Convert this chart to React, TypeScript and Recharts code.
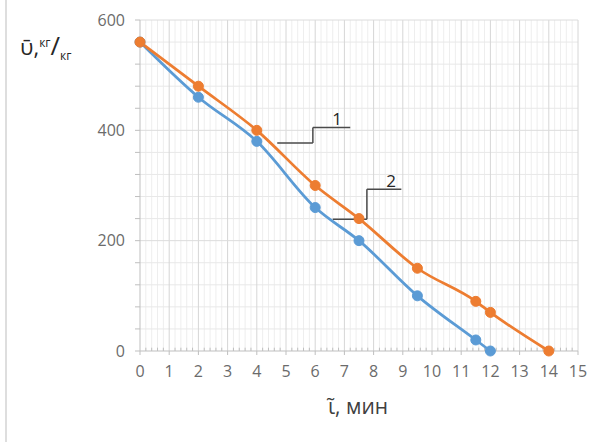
import {
  LineChart,
  Line,
  XAxis,
  YAxis,
  ReferenceLine,
  ReferenceDot,
} from "recharts";

// series 1 (orange) and 2 (blue): time, min -> value, kg/kg
const TIME_1 = [0, 2, 4, 6, 7.5, 9.5, 11.5, 12, 14];
const VALUE_1 = [560, 480, 400, 300, 240, 150, 90, 70, 0];
const TIME_2 = [0, 2, 4, 6, 7.5, 9.5, 11.5, 12];
const VALUE_2 = [560, 460, 380, 260, 200, 100, 20, 0];

const X_TICKS = [0, 1, 2, 3, 4, 5, 6, 7, 8, 9, 10, 11, 12, 13, 14, 15];
const Y_TICKS = [0, 40, 80, 120, 160, 200, 240, 280, 320, 360, 400, 440, 480, 520, 560, 600];
const X_MINOR = Array.from({ length: 76 }, (_, i) => +(i * 0.2).toFixed(1)).filter(
  (v) => !Number.isInteger(v)
);

// leader lines for the "1" / "2" callouts, in data units
const CALLOUT_1 = [
  [4.7, 377], [5.92, 377], [5.92, 405], [7.2, 405],
];
const CALLOUT_2 = [
  [6.6, 239], [7.77, 239], [7.77, 293], [8.95, 293],
];

const ORANGE = "#ED7D31";
const BLUE = "#5B9BD5";
const FONT = "'Open Sans', 'Liberation Sans', sans-serif";

const series1 = TIME_1.map((t, i) => ({ x: t, y: VALUE_1[i] }));
const series2 = TIME_2.map((t, i) => ({ x: t, y: VALUE_2[i] }));

function segments(pts: number[][]) {
  const out = [];
  for (let i = 0; i < pts.length - 1; i++) {
    out.push([
      { x: pts[i][0], y: pts[i][1] },
      { x: pts[i + 1][0], y: pts[i + 1][1] },
    ]);
  }
  return out;
}

export default function App() {
  const tickStyle = { fill: "#6b6b6b", fontSize: 16, fontFamily: FONT };
  return (
    <div
      style={{
        position: "fixed",
        left: 0,
        top: 0,
        width: 600,
        height: 442,
        background: "#fff",
        fontFamily: FONT,
      }}
    >
      <div
        style={{
          position: "absolute",
          left: 5,
          top: 0,
          width: 2,
          height: 442,
          background: "#dedede",
        }}
      />
      <LineChart
        width={600}
        height={442}
        margin={{ top: 20, right: 22, bottom: 0, left: 0 }}
        style={{ fontSize: 16, fontFamily: FONT }}
      >
        <XAxis
          type="number"
          dataKey="x"
          domain={[0, 15]}
          ticks={X_TICKS}
          interval={0}
          height={91}
          tickSize={4}
          tickMargin={11}
          stroke="#bfbfbf"
          fontSize={16}
          tick={tickStyle}
        />
        <YAxis
          type="number"
          domain={[0, 600]}
          ticks={Y_TICKS}
          interval={0}
          width={140}
          tickSize={5}
          tickMargin={10}
          stroke="#bfbfbf"
          fontSize={16}
          tick={tickStyle}
          tickFormatter={(v) => (v % 200 === 0 ? String(v) : "")}
        />
        {/* minor grid */}
        {X_MINOR.map((v) => (
          <ReferenceLine key={"mx" + v} x={v} stroke="#eeeeee" strokeWidth={1} />
        ))}
        {Y_TICKS.filter((v) => v % 200 !== 0).map((v) => (
          <ReferenceLine key={"my" + v} y={v} stroke="#e8e8e8" strokeWidth={1} />
        ))}
        {/* major grid */}
        {X_TICKS.filter((v) => v > 0).map((v) => (
          <ReferenceLine key={"gx" + v} x={v} stroke="#d6d6d6" strokeWidth={1} />
        ))}
        {Y_TICKS.filter((v) => v % 200 === 0 && v > 0).map((v) => (
          <ReferenceLine key={"gy" + v} y={v} stroke="#dcdcdc" strokeWidth={1} />
        ))}
        {/* minor tick marks on the time axis */}
        {X_MINOR.map((v) => (
          <ReferenceLine
            key={"tx" + v}
            segment={[
              { x: v, y: 0 },
              { x: v, y: 6 },
            ]}
            stroke="#bfbfbf"
            strokeWidth={1}
          />
        ))}
        {[...segments(CALLOUT_1), ...segments(CALLOUT_2)].map((s, i) => (
          <ReferenceLine key={"c" + i} segment={s} stroke="#4a4a4a" strokeWidth={1.5} />
        ))}
        <ReferenceDot
          x={6.75}
          y={420}
          r={0}
          fill="none"
          stroke="none"
          label={{ value: "1", position: "center", fill: "#262626", fontSize: 17, fontFamily: FONT }}
        />
        <ReferenceDot
          x={8.6}
          y={308}
          r={0}
          fill="none"
          stroke="none"
          label={{ value: "2", position: "center", fill: "#262626", fontSize: 17, fontFamily: FONT }}
        />
        <Line
          data={series2}
          dataKey="y"
          type="monotone"
          stroke={BLUE}
          strokeWidth={2.75}
          dot={{ r: 5, fill: BLUE, stroke: BLUE, strokeWidth: 1 }}
          isAnimationActive={false}
        />
        <Line
          data={series1}
          dataKey="y"
          type="monotone"
          stroke={ORANGE}
          strokeWidth={2.75}
          dot={{ r: 5, fill: ORANGE, stroke: ORANGE, strokeWidth: 1 }}
          isAnimationActive={false}
        />
      </LineChart>
      <div
        style={{
          position: "absolute",
          left: 20,
          top: 27,
          color: "#262626",
          fontSize: 22,
          whiteSpace: "nowrap",
        }}
      >
        ῡ,
        <sup style={{ fontSize: 12 }}>кг</sup>
        <span style={{ fontSize: 26 }}>/</span>
        <sub style={{ fontSize: 12 }}>кг</sub>
      </div>
      <div
        style={{
          position: "absolute",
          left: 290,
          width: 136,
          top: 392,
          textAlign: "center",
          color: "#404040",
          fontSize: 21,
          whiteSpace: "nowrap",
        }}
      >
        ι̃, мин
      </div>
    </div>
  );
}
